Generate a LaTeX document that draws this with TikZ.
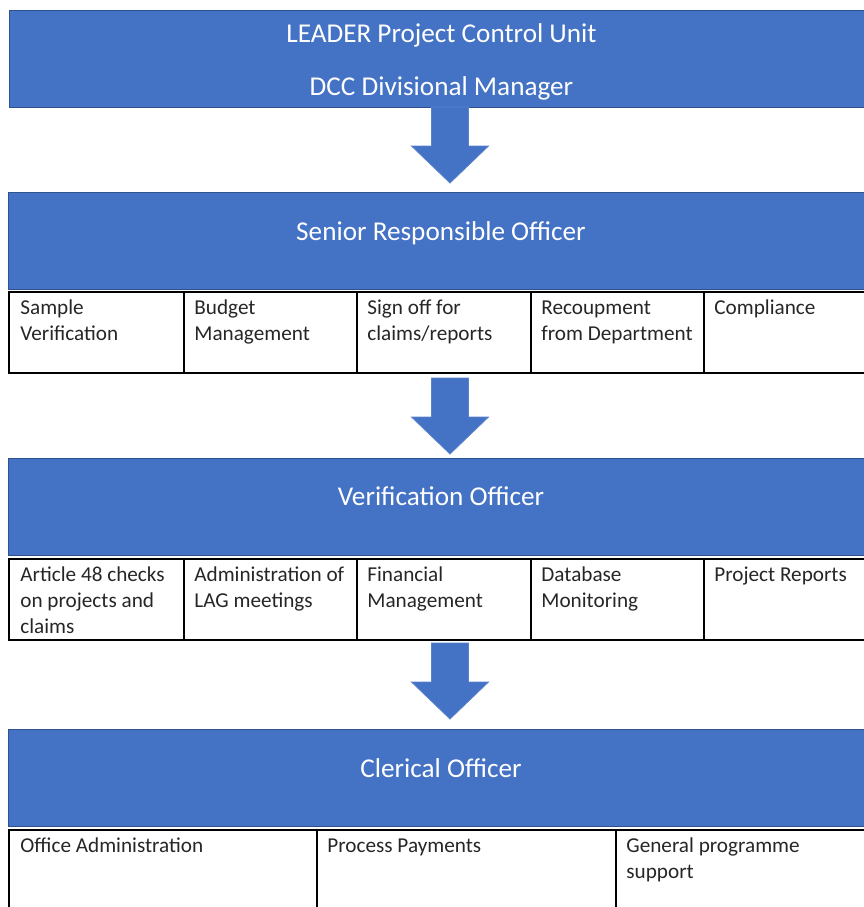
\documentclass[tikz,border=0pt]{standalone}
\usepackage{fontspec}
\setmainfont{Carlito}
\definecolor{blu}{HTML}{4472C4}
\definecolor{bord}{HTML}{2F528F}
\definecolor{arrbord}{HTML}{5B82CC}
\definecolor{txt}{HTML}{262626}
\tikzset{
  hdrbox/.style={fill=blu, draw=bord, line width=0.5pt, anchor=north west, inner sep=0pt,
    minimum width=432.5pt, minimum height=48.5pt},
  hdrtext/.style={anchor=base, text=white, inner sep=0pt, font=\fontsize{13.6}{16}\selectfont},
  cellbox/.style={draw=black, line width=0.75pt, anchor=north west, inner sep=0pt, minimum height=40.5pt},
  celltext/.style={anchor=north west, inner sep=0pt, align=left, text=txt,
    font=\fontsize{10.6}{13}\selectfont},
  bigarrow/.style={fill=blu, draw=arrbord, line width=0.4pt, line join=miter}
}
\newcommand\dnarrow[1]{%
  \path[bigarrow] (#1) ++(-18.5,0) -- ++(0,39) -- ++(-20,0) -- ++(38.5,37) -- ++(38.5,-37) -- ++(-20,0) -- ++(0,-39) -- cycle;}
\begin{document}
\begin{tikzpicture}[x=0.5pt,y=-0.5pt]
\useasboundingbox (0,0) rectangle (864,907);
\clip (0,0) rectangle (864,907);

% ---- Level 1
\node[hdrbox] (b1) at (9,10) {};
\node[hdrtext] (b1t1) at (441.5,42.5) {LEADER Project Control Unit};
\node[hdrtext] (b1t2) at (441.5,95.5) {DCC Divisional Manager};

% ---- Level 2
\node[hdrbox] (b2) at (8,192) {};
\node[hdrtext] (b2t) at (441,240.5) {Senior Responsible Officer};
\node[cellbox, minimum width=87.5pt] (r1c1) at (8,291) {};
\node[cellbox, minimum width=86.5pt] (r1c2) at (183,291) {};
\node[cellbox, minimum width=87pt] (r1c3) at (356,291) {};
\node[cellbox, minimum width=86.5pt] (r1c4) at (530,291) {};
\node[cellbox, minimum width=85pt] (r1c5) at (703,291) {};
\node[celltext] (r1t1) at (20,295.5) {\strut Sample\\Verification};
\node[celltext] (r1t2) at (194,295.5) {\strut Budget\\Management};
\node[celltext] (r1t3) at (367,295.5) {\strut Sign off for\\claims/reports};
\node[celltext] (r1t4) at (541,295.5) {\strut Recoupment\\from Department};
\node[celltext] (r1t5) at (714,295.5) {\strut Compliance};

% ---- Level 3
\node[hdrbox] (b3) at (8,458) {};
\node[hdrtext] (b3t) at (441,505.5) {Verification Officer};
\node[cellbox, minimum width=87.5pt] (r2c1) at (8,558) {};
\node[cellbox, minimum width=86.5pt] (r2c2) at (183,558) {};
\node[cellbox, minimum width=87pt] (r2c3) at (356,558) {};
\node[cellbox, minimum width=86.5pt] (r2c4) at (530,558) {};
\node[cellbox, minimum width=85pt] (r2c5) at (703,558) {};
\node[celltext] (r2t1) at (20,562.5) {\strut Article 48 checks\\on projects and\\claims};
\node[celltext] (r2t2) at (194,562.5) {\strut Administration of\\LAG meetings};
\node[celltext] (r2t3) at (367,562.5) {\strut Financial\\Management};
\node[celltext] (r2t4) at (541,562.5) {\strut Database\\Monitoring};
\node[celltext] (r2t5) at (714,562.5) {\strut Project Reports};

% ---- Level 4
\node[hdrbox] (b4) at (8,729) {};
\node[hdrtext] (b4t) at (441,777.5) {Clerical Officer};
\node[cellbox, minimum width=154pt] (r3c1) at (8,829) {};
\node[cellbox, minimum width=149.5pt] (r3c2) at (316,829) {};
\node[cellbox, minimum width=129pt] (r3c3) at (615,829) {};
\node[celltext] (r3t1) at (20,833.5) {\strut Office Administration};
\node[celltext] (r3t2) at (327,833.5) {\strut Process Payments};
\node[celltext] (r3t3) at (626,833.5) {\strut General programme\\support};

% ---- Arrows
\coordinate (a1) at (450,107);
\coordinate (a2) at (450,378);
\coordinate (a3) at (450,643);
\dnarrow{a1}
\dnarrow{a2}
\dnarrow{a3}
\end{tikzpicture}
\end{document}
